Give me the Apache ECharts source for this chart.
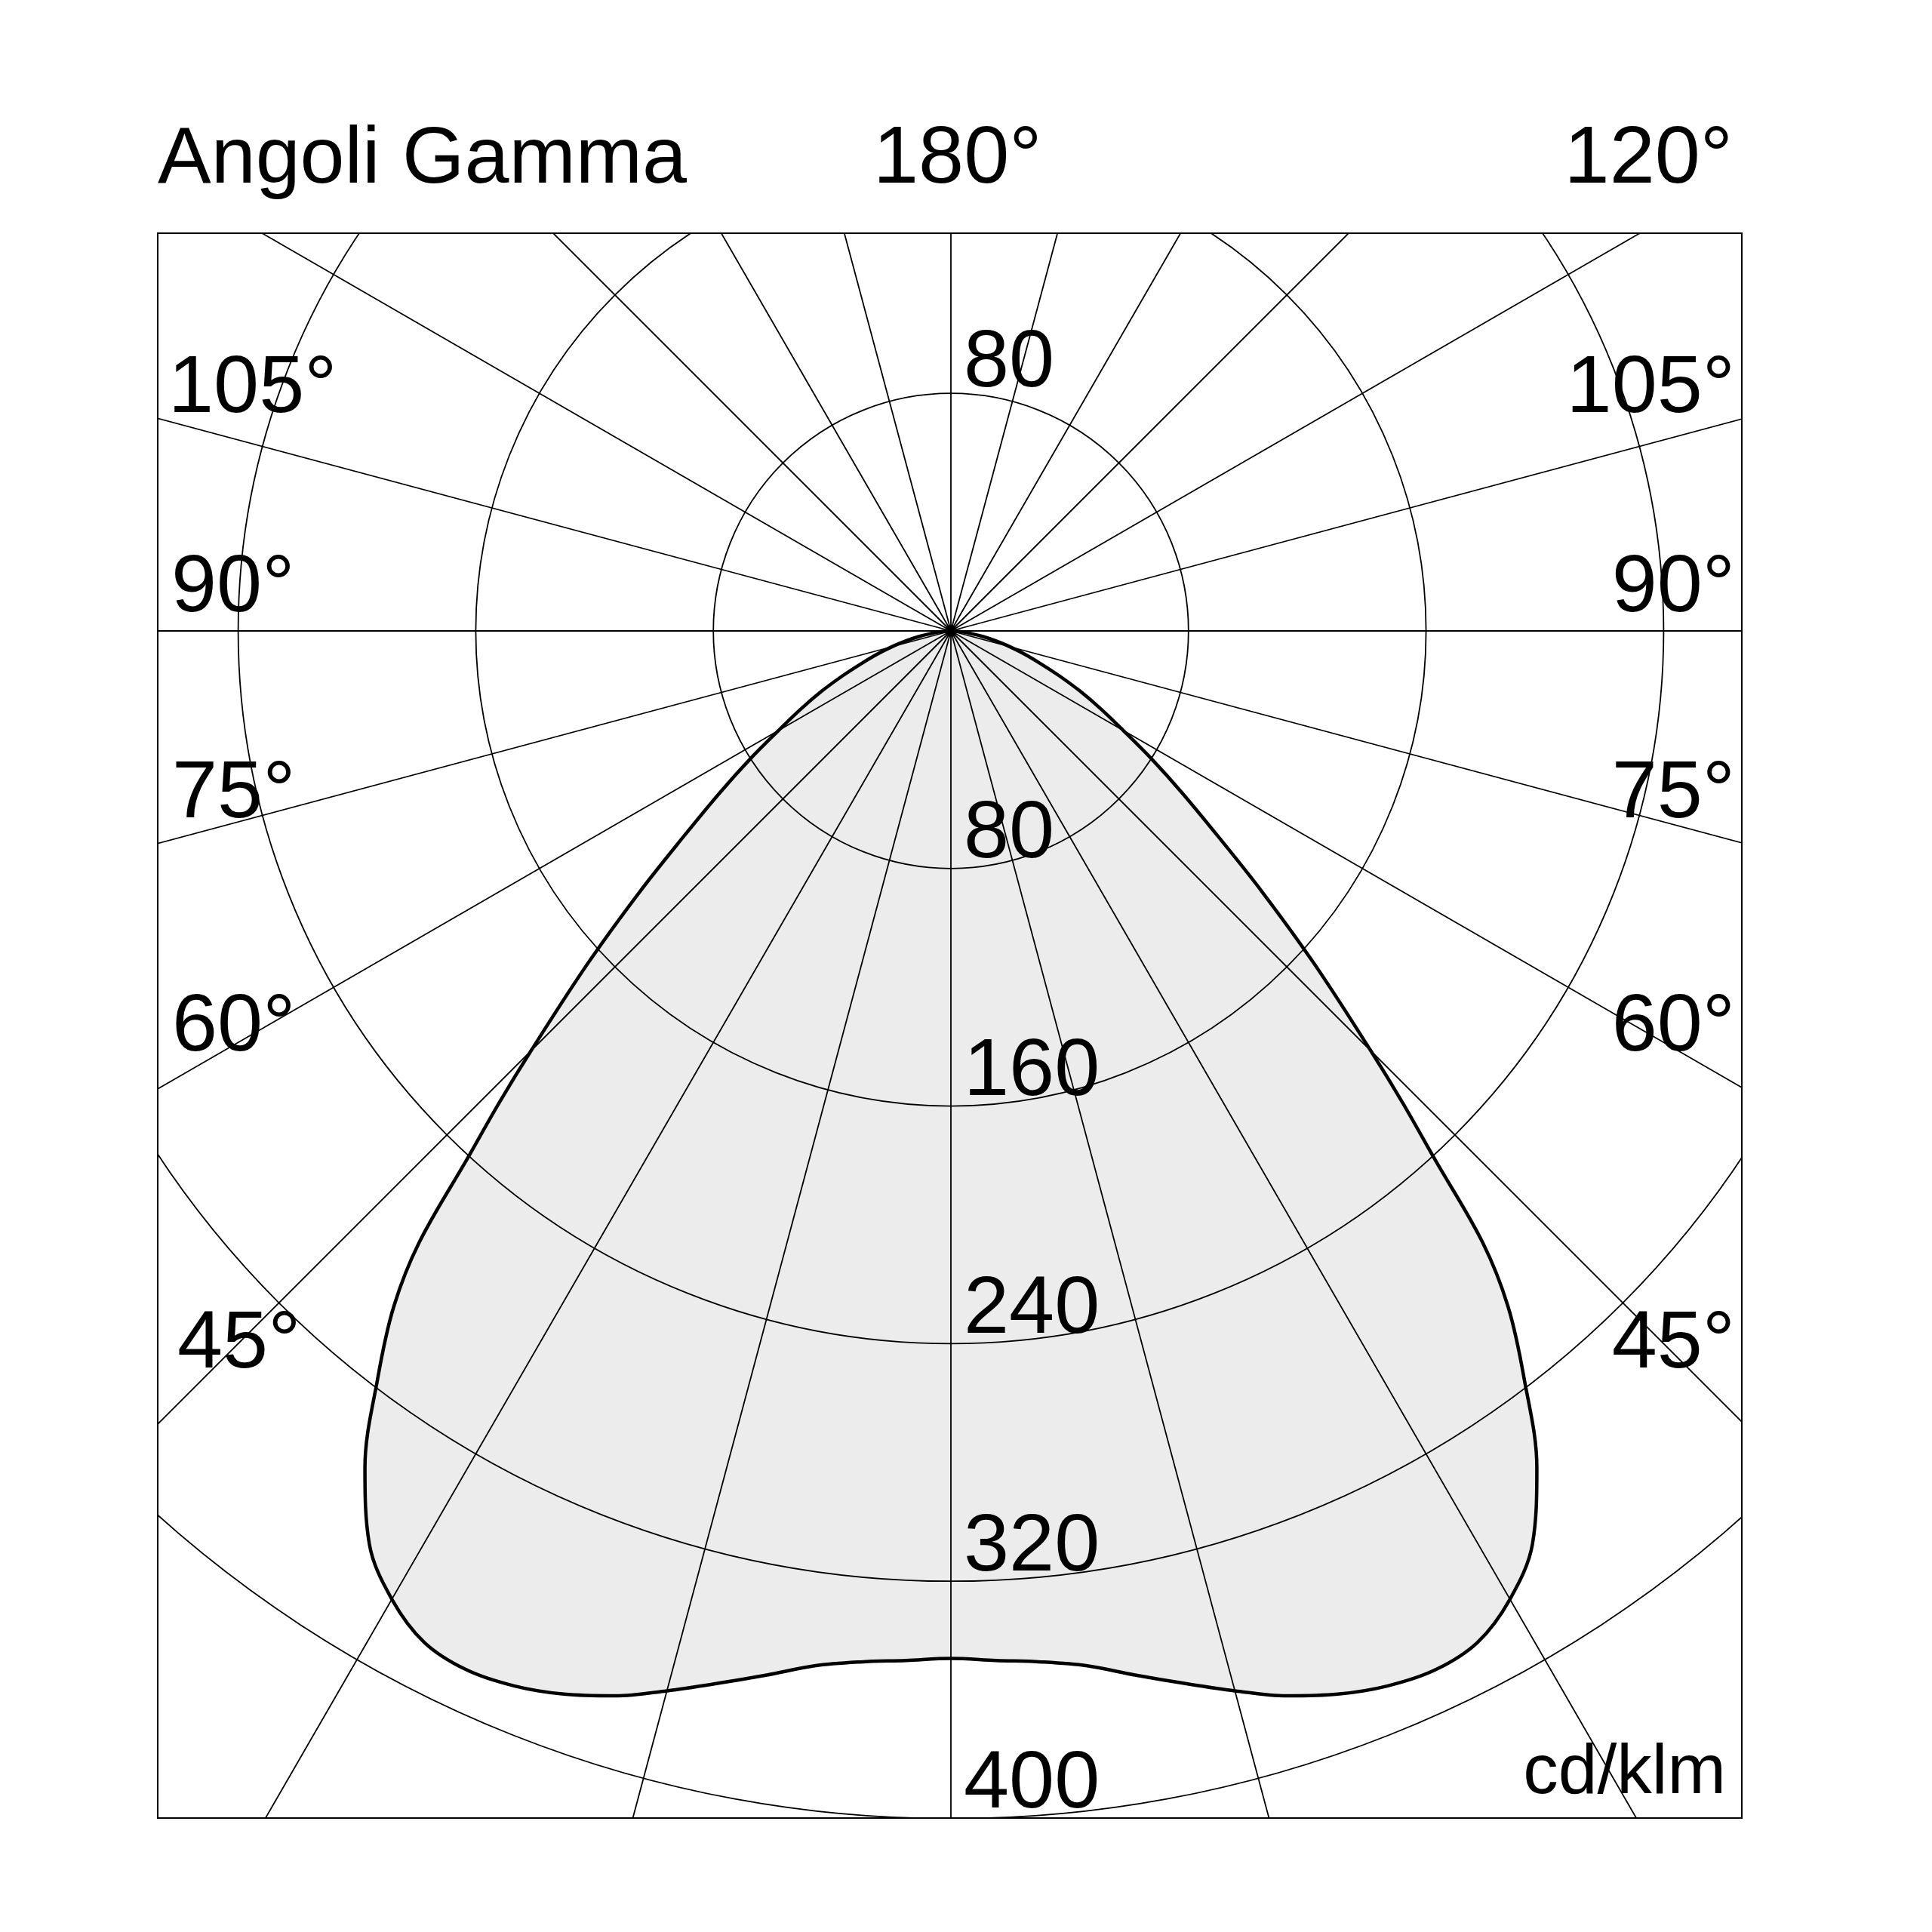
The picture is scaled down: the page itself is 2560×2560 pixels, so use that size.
<!DOCTYPE html>
<html>
<head>
<meta charset="utf-8">
<script src="https://cdn.jsdelivr.net/npm/echarts@6/dist/echarts.min.js"></script>
<style>
html,body{margin:0;padding:0;background:#fff;}
#chart{width:2560px;height:2560px;}
</style>
</head>
<body>
<div id="chart"></div>
<script>
// ---- data ----
const gammaAngles = [0, 2.5, 5, 7.5, 10, 12.5, 15, 17.5, 20, 22.5, 25, 27.5, 30, 32.5, 35, 37.5, 39.5, 41, 42.5, 43.75, 45, 47.5, 50, 52.5, 55, 57.5, 60, 62.5, 65, 67.5, 70, 72.5, 75, 77.5, 80, 82.5, 85, 87.5, 90];
const intensityC0 = [346, 347, 348.5, 351.5, 357, 363, 369.5, 376, 381, 384.5, 386, 384, 376.5, 364.5, 344, 317, 295, 273, 241, 220, 200, 166, 137, 113, 95, 80, 67, 57, 48, 39.5, 32, 26, 20.5, 15.5, 11, 7, 4, 1.5, 0];
const intensityC180 = [346, 347, 348.5, 351.5, 357, 363, 369.5, 376, 381, 384.5, 386, 384, 376.5, 364.5, 344, 317, 295, 273, 241, 220, 200, 166, 137, 113, 95, 80, 67, 57, 48, 39.5, 32, 26, 20.5, 15.5, 11, 7, 4, 1.5, 0];
const radiusTicks = [80, 160, 240, 320, 400];
const leftAngleLabels = ['105°', '90°', '75°', '60°', '45°'];
const rightAngleLabels = ['105°', '90°', '75°', '60°', '45°'];
const titleText = 'Angoli Gamma';
const topLabels = ['180°', '120°'];
const unitText = 'cd/klm';

// ---- layout ----
const CX = 1260, CY = 836;
const PX_PER_CD = 3.935;
const R_MAX = 560;
const BOX = {x: 209, y: 309, w: 2099, h: 2100};
const FONT = '"Liberation Sans", Arial, Helvetica, sans-serif';
const FS = 108;

// build polar data: right half (C0) from 90 down to 0, then left half (C180)
const curve = [];
for (let i = gammaAngles.length - 1; i >= 0; i--) curve.push([intensityC0[i], gammaAngles[i]]);
for (let i = 1; i < gammaAngles.length; i++) curve.push([intensityC180[i], 360 - gammaAngles[i]]);

const splitColors = [];
for (let v = 0; v <= R_MAX; v += 80) splitColors.push(v <= 400 ? '#000' : 'rgba(0,0,0,0)');

function txt(text, x, baseline, align, fs) {
  fs = fs || FS;
  return {
    type: 'text', z: 200,
    style: {
      text: text, x: x, y: baseline - 0.3 * fs,
      font: fs + 'px ' + FONT, fill: '#000',
      textAlign: align || 'left', textVerticalAlign: 'middle', verticalAlign: 'middle'
    }
  };
}

const graphics = [];
// white mask outside the frame
graphics.push({type: 'rect', z: 100, shape: {x: 0, y: 0, width: 2560, height: BOX.y}, style: {fill: '#fff'}});
graphics.push({type: 'rect', z: 100, shape: {x: 0, y: BOX.y + BOX.h, width: 2560, height: 2560 - BOX.y - BOX.h}, style: {fill: '#fff'}});
graphics.push({type: 'rect', z: 100, shape: {x: 0, y: 0, width: BOX.x, height: 2560}, style: {fill: '#fff'}});
graphics.push({type: 'rect', z: 100, shape: {x: BOX.x + BOX.w, y: 0, width: 2560 - BOX.x - BOX.w, height: 2560}, style: {fill: '#fff'}});
// frame
graphics.push({type: 'rect', z: 150, shape: {x: BOX.x, y: BOX.y, width: BOX.w, height: BOX.h}, style: {fill: 'none', stroke: '#000', lineWidth: 2}});

// titles
graphics.push(txt(titleText, 209, 245, 'left', 106));
graphics.push(txt(topLabels[0], 1157, 245, 'left'));
graphics.push(txt(topLabels[1], 2296, 245, 'right'));

// angle labels
const angleBaselines = [549, 813, 1086, 1395, 1815];
const leftX = [223, 227, 228, 228, 235];
leftAngleLabels.forEach((t, i) => graphics.push(txt(t, leftX[i], angleBaselines[i], 'left')));
rightAngleLabels.forEach((t, i) => graphics.push(txt(t, 2299, angleBaselines[i], 'right')));

// radius labels (downward axis) and upper 80
radiusTicks.forEach(v => graphics.push(txt(String(v), 1277, CY + v * PX_PER_CD - 12, 'left')));
graphics.push(txt(String(radiusTicks[0]), 1277, CY - radiusTicks[0] * PX_PER_CD - 7, 'left'));

// unit
graphics.push(txt(unitText, 2287, 2378, 'right', 93));

const chart = echarts.init(document.getElementById('chart'), null, {renderer: 'canvas'});
chart.setOption({
  animation: false,
  backgroundColor: '#fff',
  polar: {center: [CX, CY], radius: R_MAX * PX_PER_CD},
  angleAxis: {
    type: 'value', min: 0, max: 360, interval: 15, startAngle: 270, clockwise: true,
    z: 3,
    axisLine: {show: false}, axisTick: {show: false}, axisLabel: {show: false},
    splitLine: {show: true, lineStyle: {color: '#000', width: 1.8}}
  },
  radiusAxis: {
    type: 'value', min: 0, max: R_MAX, interval: 80,
    z: 3,
    axisLine: {show: false}, axisTick: {show: false}, axisLabel: {show: false},
    splitLine: {show: true, lineStyle: {color: splitColors, width: 1.8}}
  },
  series: [
    {
      type: 'line', coordinateSystem: 'polar', data: curve, smooth: 0.35,
      symbol: 'none', z: 1,
      lineStyle: {width: 0, opacity: 0},
      areaStyle: {color: '#ececec', opacity: 1}
    },
    {
      type: 'line', coordinateSystem: 'polar', data: curve, smooth: 0.35,
      symbol: 'none', z: 5,
      lineStyle: {color: '#000', width: 4.5}
    }
  ],
  graphic: {elements: graphics}
});
</script>
</body>
</html>
